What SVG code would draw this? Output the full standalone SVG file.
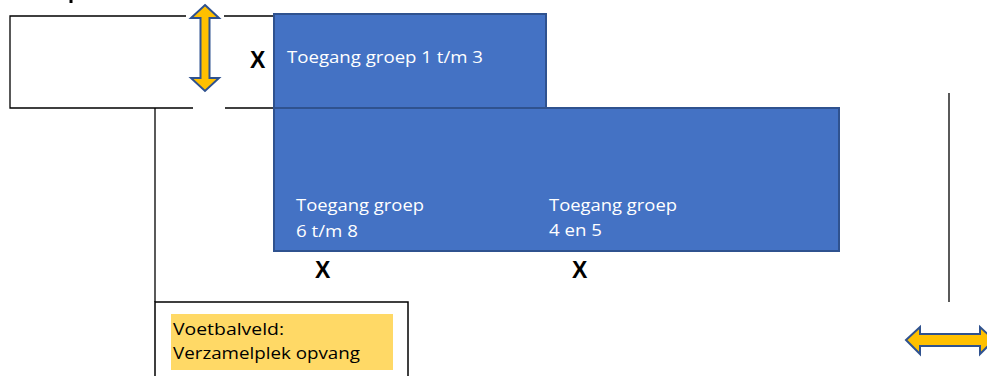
<svg xmlns="http://www.w3.org/2000/svg" width="987" height="376" viewBox="0 0 987 376">
<style>
.blk{fill:#4472C4;stroke:#2F528F;stroke-width:2}
.ln{stroke:#000;stroke-width:1.3;fill:none}
.wt{font-family:"Open Sans","Liberation Sans",sans-serif;font-size:17px;fill:#fff}
.bt{font-family:"Open Sans","Liberation Sans",sans-serif;font-size:17px;fill:#000}
.x{font-family:"Liberation Sans",Arial,sans-serif;font-size:23px;font-weight:bold;fill:#000}
.arr{fill:#FFC000;stroke:#2F528F;stroke-width:2;stroke-linejoin:miter}
</style>
<g id="connectors">
<polyline class="ln" points="186,16 10,16 10,108 193,108"/>
<line class="ln" x1="224" y1="16" x2="274" y2="16"/>
<line class="ln" x1="225" y1="108" x2="274" y2="108"/>
<line class="ln" x1="155" y1="108" x2="155" y2="302"/>
<line class="ln" x1="949" y1="93" x2="949" y2="302"/>
</g>
<g id="mark"><rect x="69.5" y="0" width="3" height="3" fill="#000"/></g>
<g id="blok-groep-1-3">
<rect class="blk" x="274" y="14" width="272" height="94"/>
<text class="wt" x="287" y="63" textLength="196" lengthAdjust="spacingAndGlyphs">Toegang groep 1 t/m 3</text>
</g>
<g id="blok-onder">
<rect class="blk" x="274" y="108" width="565" height="143"/>
<text class="wt" x="296" y="211" textLength="128" lengthAdjust="spacingAndGlyphs">Toegang groep</text>
<text class="wt" x="296" y="237" textLength="62" lengthAdjust="spacingAndGlyphs">6 t/m 8</text>
<text class="wt" x="549" y="211" textLength="128" lengthAdjust="spacingAndGlyphs">Toegang groep</text>
<text class="wt" x="549" y="236" textLength="53" lengthAdjust="spacingAndGlyphs">4 en 5</text>
</g>
<g id="x-labels">
<text class="x" x="250" y="68">X</text>
<text class="x" x="315" y="278">X</text>
<text class="x" x="572" y="278">X</text>
</g>
<g id="pijl-verticaal">
<polygon class="arr" points="205,5 219,18 209.5,18 209.5,78 219,78 205,91 191,78 200.5,78 200.5,18 191,18"/>
</g>
<g id="pijl-horizontaal">
<polygon class="arr" points="906,340 920,327 920,334 980,334 980,327 994,340 980,354 980,346 920,346 920,354"/>
</g>
<g id="voetbalveld">
<rect x="155" y="302" width="253" height="80" fill="#fff" stroke="#000" stroke-width="1.5"/>
<rect x="171" y="314" width="222" height="56" fill="#FFD966"/>
<text class="bt" x="173" y="335" textLength="111" lengthAdjust="spacingAndGlyphs">Voetbalveld:</text>
<text class="bt" x="173" y="359" textLength="187" lengthAdjust="spacingAndGlyphs">Verzamelplek opvang</text>
</g>
</svg>
